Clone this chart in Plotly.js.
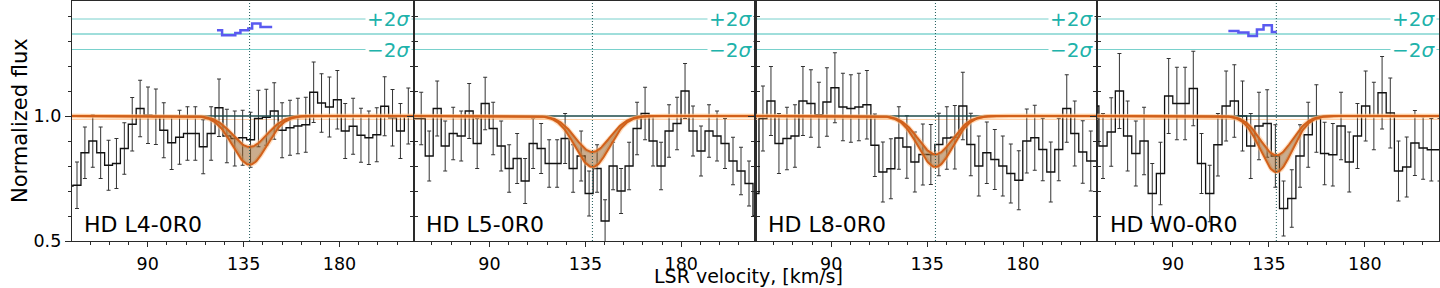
<!DOCTYPE html>
<html>
<head>
<meta charset="utf-8">
<script src="https://cdn.plot.ly/plotly-3.0.1.min.js"></script>
<style>
  html, body { margin: 0; padding: 0; background: #fff; }
  #chart { width: 1440px; height: 288px; }
</style>
</head>
<body>
<div id="chart"></div>
<script>
// ─────────────────────────────
// DATOS
// ─────────────────────────────
const etiquetas = ['HD L4-0R0', 'HD L5-0R0', 'HD L8-0R0', 'HD W0-0R0'];

const vel1 = [53.15, 56.85, 60.55, 64.25, 67.95, 71.65, 75.35, 79.05, 82.75, 86.45, 90.15, 93.85, 97.55, 101.25, 104.95,
  108.65, 112.35, 116.05, 119.75, 123.45, 127.15, 130.85, 134.55, 138.25, 141.95, 145.65, 149.35, 153.05, 156.75, 160.45,
  164.15, 167.85, 171.55, 175.25, 178.95, 182.65, 186.35, 190.05, 193.75, 197.45, 201.15, 204.85, 208.55, 212.25, 215.95];
const flux1 = [0.72, 0.723, 0.853, 0.90, 0.853, 0.803, 0.81, 0.87, 0.967, 1.03, 1.003, 0.997, 0.943, 0.893, 0.915,
  0.93, 0.93, 0.877, 0.93, 1.033, 0.92, 0.91, 0.913, 0.905, 0.99, 0.995, 1.02, 0.943, 0.953, 0.96,
  0.965, 1.095, 1.052, 1.036, 1.065, 0.94, 0.959, 0.923, 0.913, 0.925, 1.039, 0.993, 0.94, 1.0, 1.0];
const err1 = [0.093, 0.093, 0.103, 0.105, 0.103, 0.1, 0.1, 0.103, 0.107, 0.113, 0.113, 0.111, 0.11, 0.107, 0.108,
  0.107, 0.107, 0.108, 0.107, 0.115, 0.107, 0.11, 0.11, 0.11, 0.113, 0.112, 0.113, 0.11, 0.11, 0.111,
  0.11, 0.121, 0.117, 0.12, 0.117, 0.11, 0.112, 0.108, 0.107, 0.108, 0.118, 0.113, 0.11, 0.112, 0.112];

const vel2 = [54.25, 58.0, 61.75, 65.5, 69.25, 73.0, 76.75, 80.5, 84.25, 88.0, 91.75, 95.5, 99.25, 103.0, 106.75,
  110.5, 114.25, 118.0, 121.75, 125.5, 129.25, 133.0, 136.75, 140.5, 144.25, 148.0, 151.75, 155.5, 159.25, 163.0,
  166.75, 170.5, 174.25, 178.0, 181.75, 185.5, 189.25, 193.0, 196.75, 200.5, 204.25, 208.0, 211.75, 215.5];
const flux2 = [0.99, 0.99, 0.84, 1.03, 0.88, 0.93, 0.92, 1.02, 0.89, 1.05, 0.95, 0.88, 0.79, 0.83, 0.74,
  0.89, 0.87, 0.81, 0.81, 0.91, 0.79, 0.84, 0.69, 0.79, 0.58, 0.80, 0.70, 0.80, 0.95, 1.01,
  0.90, 0.80, 0.94, 0.97, 1.10, 0.94, 0.86, 0.94, 0.92, 0.89, 0.82, 0.78, 0.73, 0.60];
const err2 = [0.105, 0.105, 0.1, 0.11, 0.1, 0.105, 0.1, 0.11, 0.1, 0.105, 0.105, 0.1, 0.095, 0.1, 0.09,
  0.1, 0.1, 0.095, 0.095, 0.1, 0.095, 0.1, 0.09, 0.095, 0.085, 0.095, 0.09, 0.095, 0.105, 0.105,
  0.1, 0.095, 0.105, 0.105, 0.11, 0.1, 0.1, 0.105, 0.1, 0.1, 0.095, 0.095, 0.09, 0.085];

const vel3 = [54.25, 58.0, 61.75, 65.5, 69.25, 73.0, 76.75, 80.5, 84.25, 88.0, 91.75, 95.5, 99.25, 103.0, 106.75,
  110.5, 114.25, 118.0, 121.75, 125.5, 129.25, 133.0, 136.75, 140.5, 144.25, 148.0, 151.75, 155.5, 159.25, 163.0,
  166.75, 170.5, 174.25, 178.0, 181.75, 185.5, 189.25, 193.0, 196.75, 200.5, 204.25, 208.0, 211.75, 215.5, 219.25];
const flux3 = [0.69, 0.99, 1.06, 0.89, 0.91, 0.92, 1.06, 1.05, 1.005, 1.056, 1.113, 1.036, 1.03, 1.036, 1.045,
  0.883, 0.776, 0.789, 0.912, 0.876, 0.816, 0.846, 0.846, 0.886, 0.912, 0.915, 1.04, 0.886, 0.80, 0.853,
  0.826, 0.80, 0.77, 0.743, 0.90, 0.913, 0.866, 0.776, 0.866, 1.03, 0.93, 0.856, 0.82, 0.82, 0.696];
const err3 = [0.1, 0.13, 0.138, 0.12, 0.125, 0.125, 0.138, 0.135, 0.13, 0.137, 0.14, 0.135, 0.135, 0.135, 0.137,
  0.125, 0.12, 0.12, 0.125, 0.125, 0.12, 0.122, 0.12, 0.125, 0.125, 0.127, 0.135, 0.125, 0.12, 0.123,
  0.12, 0.12, 0.118, 0.118, 0.128, 0.13, 0.125, 0.12, 0.125, 0.135, 0.13, 0.125, 0.12, 0.12, 0.11];

const vel4 = [53.35, 57.2, 61.05, 64.9, 68.75, 72.6, 76.45, 80.3, 84.15, 88.0, 91.85, 95.7, 99.55, 103.4, 107.25,
  111.1, 114.95, 118.8, 122.65, 126.5, 130.35, 134.2, 138.05, 141.9, 145.75, 149.6, 153.45, 157.3, 161.15, 165.0,
  168.85, 172.7, 176.55, 180.4, 184.25, 188.1, 191.95, 195.8, 199.65, 203.5, 207.35, 211.2, 215.05];
const flux4 = [1.04, 0.88, 0.936, 1.10, 0.92, 0.85, 0.90, 0.69, 0.77, 1.08, 1.05, 1.05, 1.11, 0.81, 0.69,
  0.885, 1.04, 1.06, 1.0, 0.88, 0.96, 0.97, 0.84, 0.63, 0.67, 0.84, 0.925, 0.99, 0.85, 0.845,
  0.96, 0.816, 0.92, 1.04, 1.0, 1.093, 1.012, 0.78, 0.796, 0.892, 0.872, 0.865, 0.865];
const err4 = [0.14, 0.13, 0.137, 0.15, 0.14, 0.13, 0.135, 0.12, 0.125, 0.15, 0.145, 0.145, 0.149, 0.12, 0.113,
  0.125, 0.14, 0.145, 0.14, 0.13, 0.135, 0.135, 0.125, 0.11, 0.115, 0.125, 0.13, 0.135, 0.125, 0.125,
  0.135, 0.12, 0.13, 0.14, 0.135, 0.145, 0.14, 0.12, 0.12, 0.13, 0.125, 0.125, 0.125];

// residuos (azul) solo en L4 y W0
const resVel1 = [122.5, 124.9, 131.1, 133.5, 137.2, 139.0, 142.9, 148.4];
const resVal1 = [1.343, 1.323, 1.332, 1.343, 1.35, 1.37, 1.356, 1.356];
const resVel4 = [116.0, 120.7, 125.4, 129.4, 132.5, 136.4, 138.7];
const resVal4 = [1.34, 1.334, 1.32, 1.346, 1.363, 1.336, 1.336];

// ajuste gaussiano: centro, anchura, profundidades (banda inferior / superior)
const centros = [137.8, 138.3, 138.9, 138.5];
const anchos = [8, 8, 8, 7.5];
const profLo = [0.195, 0.204, 0.204, 0.224];
const profHi = [0.124, 0.144, 0.153, 0.157];

// niveles +2σ / 0 / −2σ
const nivelMas = 1.388;
const nivelCero = 1.328;
const nivelMenos = 1.266;

const xticks = [90, 135, 180];
const yticks = [0.5, 1.0];
const yticktext = ['0.5', '1.0'];


// ─────────────────────────────
// CONFIG
// ─────────────────────────────
const FUENTE = 'DejaVu Sans, sans-serif';
const NARANJA = '#d2601a';
const TEAL = '#20b2aa';
const MARCO = '#2a2a2a';
const XR = [54.5, 214.8];
const YR = [0.5, 1.46];

const paneles = [
  { vel: vel1, flux: flux1, err: err1, resV: resVel1, resY: resVal1 },
  { vel: vel2, flux: flux2, err: err2, resV: null, resY: null },
  { vel: vel3, flux: flux3, err: err3, resV: null, resY: null },
  { vel: vel4, flux: flux4, err: err4, resV: resVel4, resY: resVal4 }
];

function _perfil(c, s, d) {
  const xs = [], ys = [];
  for (let v = 54; v <= 215.5; v += 0.5) {
    xs.push(v);
    ys.push(1 - d * Math.exp(-0.5 * ((v - c) / s) ** 2));
  }
  return { xs, ys };
}


// ─────────────────────────────
// TRAZAS Y EJES
// ─────────────────────────────
const traces = [];
const shapes = [];
const annotations = [];
const layout = {
  width: 1440,
  height: 288,
  margin: { l: 72, r: 1, t: 1, b: 47 },
  paper_bgcolor: 'white',
  plot_bgcolor: 'white',
  showlegend: false,
  font: { family: FUENTE, size: 18, color: 'black' }
};

paneles.forEach((p, i) => {
  const sx = i === 0 ? '' : String(i + 1);
  const xa = 'x' + sx;
  const ya = 'y' + sx;

  layout['xaxis' + sx] = {
    domain: [i / 4, (i + 1) / 4],
    anchor: ya,
    range: XR,
    tickmode: 'array',
    tickvals: xticks,
    ticks: 'outside',
    ticklen: 5,
    tickwidth: 1,
    tickcolor: MARCO,
    ticklabelstandoff: 2,
    minor: { tickmode: 'linear', tick0: 0, dtick: 9, ticks: 'outside', ticklen: 3, tickcolor: MARCO },
    tickfont: { family: FUENTE, size: 17.5, color: 'black' },
    showline: true,
    mirror: true,
    linecolor: MARCO,
    linewidth: 1.2,
    showgrid: false,
    zeroline: false
  };

  layout['yaxis' + sx] = {
    domain: [0, 1],
    anchor: xa,
    range: YR,
    tickmode: 'array',
    tickvals: yticks,
    ticktext: yticktext,
    ticks: 'outside',
    ticklen: 6,
    tickwidth: 1,
    tickcolor: MARCO,
    minor: { tickmode: 'linear', tick0: 0, dtick: 0.1, ticks: 'outside', ticklen: 3, tickcolor: MARCO },
    showticklabels: i === 0,
    tickfont: { family: FUENTE, size: 17.5, color: 'black' },
    showline: true,
    mirror: 'allticks',
    linecolor: MARCO,
    linewidth: 1.2,
    showgrid: false,
    zeroline: false
  };

  // ───────── espectro ─────────
  traces.push({
    x: p.vel, y: p.flux, xaxis: xa, yaxis: ya,
    type: 'scatter', mode: 'lines',
    line: { shape: 'hvh', color: '#111', width: 1.3 },
    error_y: { type: 'data', array: p.err, visible: true, color: '#333', thickness: 1, width: 2 },
    hoverinfo: 'skip'
  });

  // continuo (oscuro) en 1.0
  traces.push({
    x: XR, y: [1, 1], xaxis: xa, yaxis: ya,
    type: 'scatter', mode: 'lines',
    line: { color: '#1d4a4a', width: 1.5 },
    hoverinfo: 'skip'
  });

  // ───────── banda del modelo ─────────
  const hi = _perfil(centros[i], anchos[i], profHi[i]);
  const lo = _perfil(centros[i], anchos[i], profLo[i]);
  [hi, lo].forEach(m => {
    traces.push({
      x: m.xs, y: m.ys, xaxis: xa, yaxis: ya,
      type: 'scatter', mode: 'lines',
      line: { color: 'rgba(255,190,130,0.5)', width: 4.5 },
      hoverinfo: 'skip'
    });
  });
  traces.push({
    x: hi.xs, y: hi.ys, xaxis: xa, yaxis: ya,
    type: 'scatter', mode: 'lines',
    line: { color: NARANJA, width: 2 },
    hoverinfo: 'skip'
  });
  traces.push({
    x: lo.xs, y: lo.ys, xaxis: xa, yaxis: ya,
    type: 'scatter', mode: 'lines', fill: 'tonexty',
    fillcolor: 'rgba(150,90,30,0.5)',
    line: { color: NARANJA, width: 2 },
    hoverinfo: 'skip'
  });

  // ───────── residuos ─────────
  if (p.resV) {
    traces.push({
      x: p.resV, y: p.resY, xaxis: xa, yaxis: ya,
      type: 'scatter', mode: 'lines',
      line: { shape: 'hv', color: '#5a5af0', width: 2.5 },
      hoverinfo: 'skip'
    });
  }

  // ───────── líneas guía ─────────
  [[nivelMas, 'rgba(32,178,170,0.6)'], [nivelCero, 'rgba(32,178,170,0.85)'], [nivelMenos, 'rgba(32,178,170,0.6)']]
    .forEach(([yv, c]) => {
      shapes.push({
        type: 'line', xref: xa + ' domain', yref: ya,
        x0: 0, x1: 1, y0: yv, y1: yv,
        line: { color: c, width: 1 }, layer: 'below'
      });
    });

  shapes.push({
    type: 'line', xref: xa, yref: ya,
    x0: XR[0], x1: XR[1], y0: 0.986, y1: 0.986,
    line: { color: 'rgba(255,200,150,0.8)', width: 1 }, layer: 'below'
  });

  shapes.push({
    type: 'line', xref: xa, yref: ya + ' domain',
    x0: centros[i], x1: centros[i], y0: 0, y1: 1,
    line: { color: '#1f5a5a', width: 1, dash: '1px,2px' }, layer: 'above'
  });

  // ───────── textos ─────────
  [['+2<i>σ</i>', nivelMas], ['−2<i>σ</i>', nivelMenos]].forEach(([t, yv]) => {
    annotations.push({
      text: t, xref: xa + ' domain', yref: ya,
      x: 1, y: yv, xanchor: 'right', yanchor: 'middle', xshift: -2,
      showarrow: false, bgcolor: 'white', borderpad: 1,
      font: { family: FUENTE, size: 20, color: TEAL }
    });
  });

  annotations.push({
    text: etiquetas[i], xref: xa + ' domain', yref: ya,
    x: 0.03, y: 0.565, xanchor: 'left', yanchor: 'middle',
    showarrow: false,
    font: { family: FUENTE, size: 22, color: 'black' }
  });
});

annotations.push({
  text: 'Normalized flux', xref: 'paper', yref: 'paper',
  x: -0.038, y: 0.5, xanchor: 'center', yanchor: 'middle',
  textangle: -90, showarrow: false,
  font: { family: FUENTE, size: 21, color: 'black' }
});

annotations.push({
  text: 'LSR velocity, [km/s]', xref: 'paper', yref: 'paper',
  x: 0.4946, y: -0.147, xanchor: 'center', yanchor: 'middle',
  showarrow: false,
  font: { family: FUENTE, size: 19, color: 'black' }
});

layout.shapes = shapes;
layout.annotations = annotations;

Plotly.newPlot('chart', traces, layout, { displayModeBar: false, staticPlot: true });
</script>
</body>
</html>
